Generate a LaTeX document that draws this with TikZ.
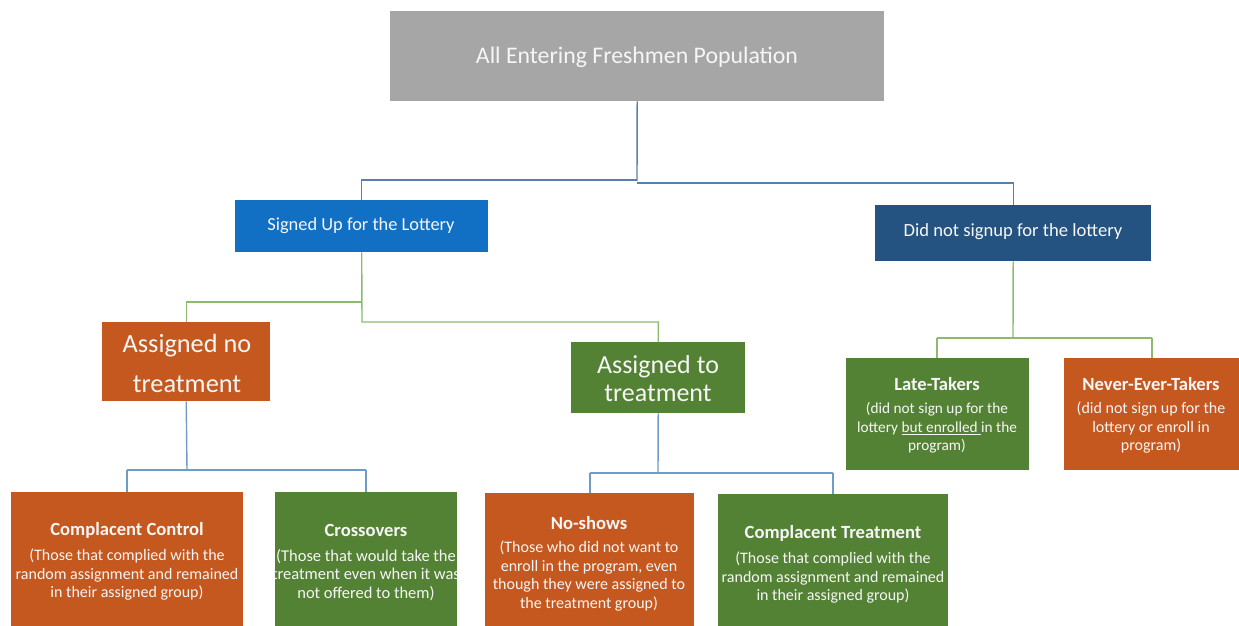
\documentclass[tikz,border=0pt]{standalone}
\usepackage{fontspec}
\setmainfont{Carlito}
\definecolor{cgray}{HTML}{A6A6A6}
\definecolor{cblue}{HTML}{1170C4}
\definecolor{cnavy}{HTML}{245381}
\definecolor{corange}{HTML}{C5581E}
\definecolor{cgreen}{HTML}{548235}
\definecolor{ltop}{HTML}{5A7FAE}
\definecolor{lgreen}{HTML}{8DBA6E}
\definecolor{lblue}{HTML}{6C9CC8}
\definecolor{ctext}{HTML}{F6F6F6}
\tikzset{
  box/.style={draw=none, inner sep=0pt, anchor=north west},
  txt/.style={text=ctext, align=center, inner sep=0pt, font=\fontsize{16}{18.5}\selectfont},
  ttl/.style={text=ctext, inner sep=0pt, font=\fontsize{18.6}{21}\selectfont\bfseries},
  conn/.style={line width=1.4pt}
}
\begin{document}
\begin{tikzpicture}[x=1pt,y=-1pt]
\useasboundingbox (0,0) rectangle (1239,626);
\begin{scope}
\clip (0,0) rectangle (1239,626);
% boxes
\node[box, fill=cgray, minimum width=494, minimum height=90] (top) at (390,11) {};
\node[box, fill=cblue, minimum width=253, minimum height=52] (sign) at (235,200) {};
\node[box, fill=cnavy, minimum width=276, minimum height=56] (nosign) at (875,205) {};
\node[box, fill=corange, minimum width=168, minimum height=79] (ano) at (102,322) {};
\node[box, fill=cgreen, minimum width=174, minimum height=71] (ato) at (571,342) {};
\node[box, fill=cgreen, minimum width=183, minimum height=112] (late) at (846,358) {};
\node[box, fill=corange, minimum width=175, minimum height=112] (never) at (1064,358) {};
\node[box, fill=corange, minimum width=232, minimum height=140] (cc) at (11,492) {};
\node[box, fill=cgreen, minimum width=182, minimum height=140] (cross) at (275,492) {};
\node[box, fill=corange, minimum width=209, minimum height=140] (nos) at (485,493) {};
\node[box, fill=cgreen, minimum width=230, minimum height=140] (ct) at (718,494) {};
\end{scope}
% connectors
\coordinate (j0) at (637,181);
\draw[conn, ltop] (top.south) -- (j0);
\draw[conn, ltop] (637,180) -| (sign.north);
\draw[conn, ltop] (637,183) -| (nosign.north);
\coordinate (j1) at (362,302);
\draw[conn, lgreen] (sign.south) -- (362,322) -| (ato.north);
\draw[conn, lgreen] (j1) -| (ano.north);
\coordinate (j2) at (1013,338);
\draw[conn, lgreen] (nosign.south) -- (j2);
\draw[conn, lgreen] (937,338) -- (1152,338);
\draw[conn, lgreen] (937,338) -- (937,358);
\draw[conn, lgreen] (1152,338) -- (1152,358);
\coordinate (j3) at (187,470);
\draw[conn, lblue] (ano.south) -- (j3);
\draw[conn, lblue] (127,470) -- (366,470);
\draw[conn, lblue] (127,470) -- (127,492);
\draw[conn, lblue] (366,470) -- (366,492);
\coordinate (j4) at (658,473);
\draw[conn, lblue] (ato.south) -- (j4);
\draw[conn, lblue] (590,473) -- (833,473);
\draw[conn, lblue] (590,473) -- (590,493);
\draw[conn, lblue] (833,473) -- (833,494);
% texts
\node[txt, font=\fontsize{23.8}{28}\selectfont] (ttop) at (637,57) {All Entering Freshmen Population};
\node[txt, font=\fontsize{18.4}{21}\selectfont] (tsign) at (361,226) {Signed Up for the Lottery};
\node[txt, font=\fontsize{18.6}{21}\selectfont] (tnosign) at (1013,232) {Did not signup for the lottery};
\node[txt, font=\fontsize{26.3}{40}\selectfont] (tano) at (187,363) {Assigned no\\treatment};
\node[txt, font=\fontsize{26}{28}\selectfont] (tato) at (658,379) {Assigned to\\treatment};
\node[ttl] (tlate) at (937,384) {Late-Takers};
\node[txt, font=\fontsize{15.3}{18.5}\selectfont] (dlate) at (937,428) {(did not sign up for the\\lottery \underline{but enrolled }in the\\program)};
\node[ttl] (tnever) at (1151,384) {Never-Ever-Takers};
\node[txt] (dnever) at (1151,428) {(did not sign up for the\\lottery or enroll in\\program)};
\node[ttl] (tcc) at (127,530) {Complacent Control};
\node[txt] (dcc) at (127,575) {(Those that complied with the\\random assignment and remained\\in their assigned group)};
\node[ttl] (tcross) at (366,530) {Crossovers};
\node[txt, font=\fontsize{16.5}{18.5}\selectfont] (dcross) at (366,575) {(Those that would take the\\treatment even when it was\\not offered to them)};
\node[ttl] (tnos) at (589,523) {No-shows};
\node[txt] (dnos) at (589,576) {(Those who did not want to\\enroll in the program, even\\though they were assigned to\\the treatment group)};
\node[ttl] (tct) at (833,533) {Complacent Treatment};
\node[txt] (dct) at (833,578) {(Those that complied with the\\random assignment and remained\\in their assigned group)};
\end{tikzpicture}
\end{document}
